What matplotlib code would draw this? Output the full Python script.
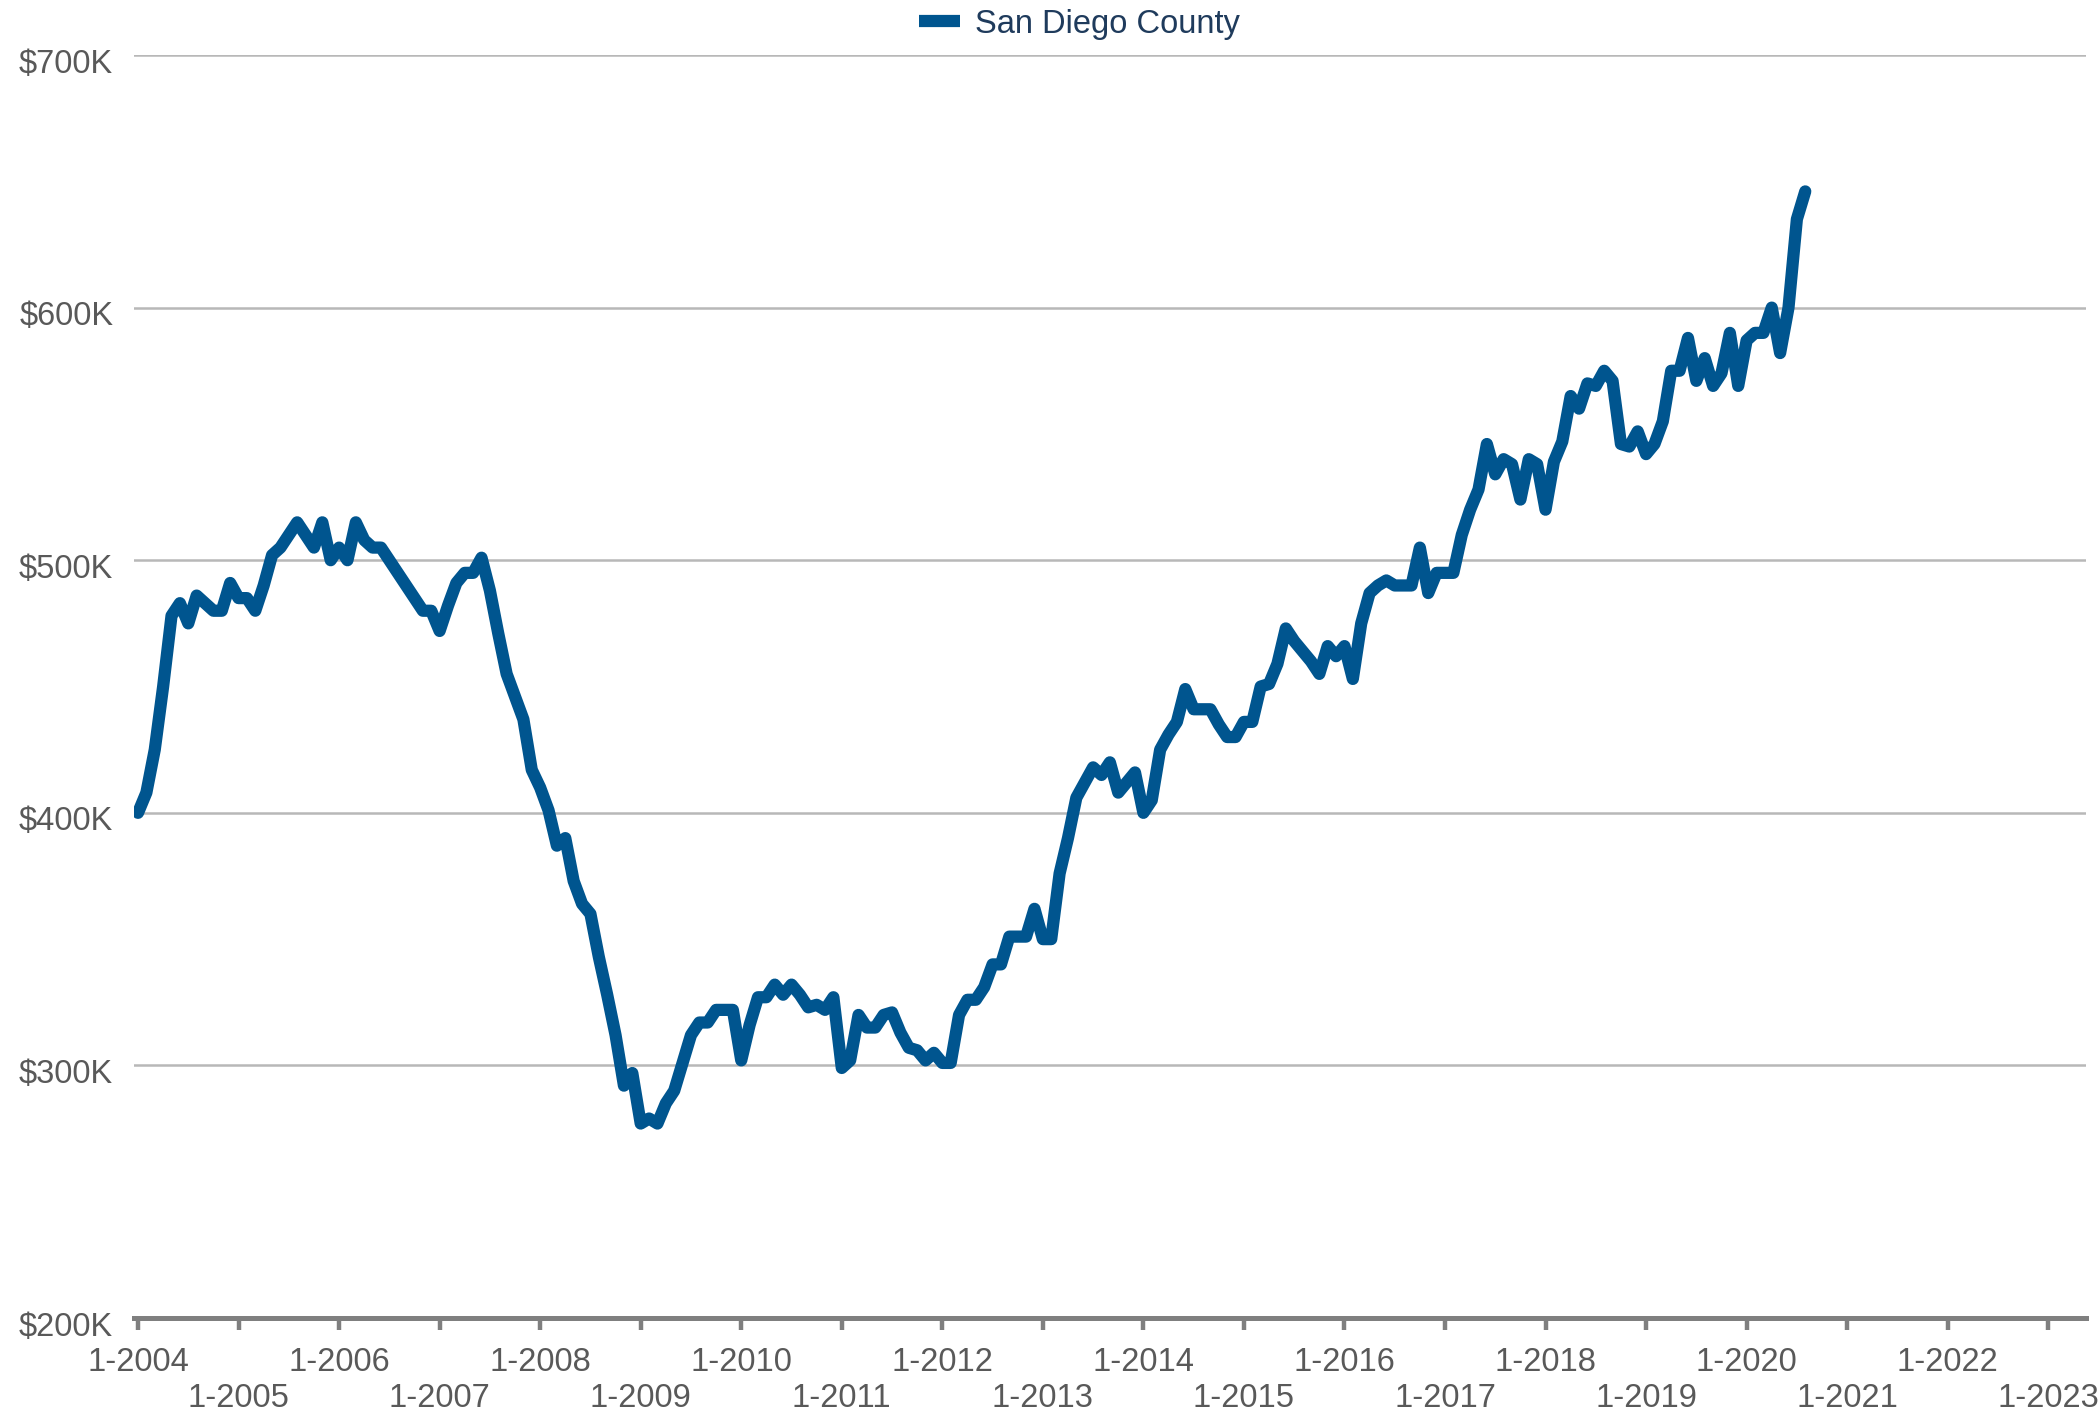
import numpy as np
import matplotlib.pyplot as plt
import matplotlib.transforms as mtransforms
from matplotlib.ticker import FuncFormatter

plt.rcParams['font.family'] = ['Liberation Sans', 'DejaVu Sans']

# median price, San Diego County, monthly from 1-2004 to 8-2020 (in $K)
series_name = "San Diego County"
start_year = 2004
median_price = [
    400, 408, 425, 450, 478, 483, 475, 486, 483, 480, 480, 491,
    485, 485, 480, 490, 502, 505, 510, 515, 510, 505, 515, 500,
    505, 500, 515, 508, 505, 505, 500, 495, 490, 485, 480, 480,
    472, 482, 491, 495, 495, 501, 488, 471, 455, 446, 437, 417,
    410, 401, 387, 390, 373, 364, 360, 343, 328, 312, 292, 297,
    277, 279, 277, 285, 290, 301, 312, 317, 317, 322, 322, 322,
    302, 316, 327, 327, 332, 328, 332, 328, 323, 324, 322, 327,
    299, 302, 320, 315, 315, 320, 321, 313, 307, 306, 302, 305,
    301, 301, 320, 326, 326, 331, 340, 340, 351, 351, 351, 362,
    350, 350, 376, 390, 406, 412, 418, 415, 420, 408, 412, 416,
    400, 405, 425, 431, 436, 449, 441, 441, 441, 435, 430, 430,
    436, 436, 450, 451, 459, 473, 468, 464, 460, 455, 466, 462,
    466, 453, 475, 487, 490, 492, 490, 490, 490, 505, 487, 495,
    495, 495, 510, 520, 528, 546, 534, 540, 538, 524, 540, 538,
    520, 539, 547, 565, 560, 570, 569, 575, 571, 546, 545, 551,
    542, 546, 555, 575, 575, 588, 571, 580, 569, 574, 590, 569,
    587, 590, 590, 600, 582, 600, 635, 646,
]
tick_years = list(range(2004, 2024))
y_ticks = [200, 300, 400, 500, 600, 700]

line_color = '#00558f'
text_gray = '#595959'

fig = plt.figure(figsize=(21, 14.1), dpi=100)
ax = fig.add_axes([0.0638, 0.0652, 0.9295, 0.8958])

x = np.arange(len(median_price))
ax.plot(x, median_price, color=line_color, lw=8.8, solid_joinstyle='round',
        solid_capstyle='round', label=series_name, zorder=3)

ax.set_ylim(200, 700)
ax.set_xlim(-0.48, 232.5)
ax.set_yticks(y_ticks)
ax.yaxis.set_major_formatter(FuncFormatter(lambda v, p: f"${int(v)}K"))
ax.tick_params(axis='y', length=0, pad=15, labelsize=23.5, labelcolor=text_gray)
for yv in y_ticks[1:]:
    ax.axhline(yv, color='#b8b8b8', lw=1.8, zorder=1)

xt = [(yr - start_year) * 12 for yr in tick_years]
xl = [f"1-{yr}" if i % 2 == 0 else f"\n1-{yr}" for i, yr in enumerate(tick_years)]
ax.set_xticks(xt)
ax.set_xticklabels(xl)
ax.tick_params(axis='x', length=8.5, width=3.2, color='#7f7f7f', pad=12.5,
               labelsize=23.5, labelcolor=text_gray)

# nudge y labels a bit below their gridlines, as in the original
shift = mtransforms.ScaledTranslation(0, -4 / 72, fig.dpi_scale_trans)
for lab in ax.get_yticklabels():
    lab.set_transform(lab.get_transform() + shift)

for s in ['top', 'right', 'left']:
    ax.spines[s].set_visible(False)
ax.spines['bottom'].set_color('#7f7f7f')
ax.spines['bottom'].set_linewidth(3.6)
ax.spines['bottom'].set_zorder(4)

leg = fig.legend(loc='center', bbox_to_anchor=(0.514, 1 - 24 / 1410), frameon=False,
                 fontsize=23.5, handlelength=1.25, handletextpad=0.45)
for t in leg.get_texts():
    t.set_color('#1f3b5c')
for h in leg.get_lines():
    h.set_linewidth(8.8)
    h.set_solid_capstyle('butt')

fig.savefig('out.png', dpi=100)
